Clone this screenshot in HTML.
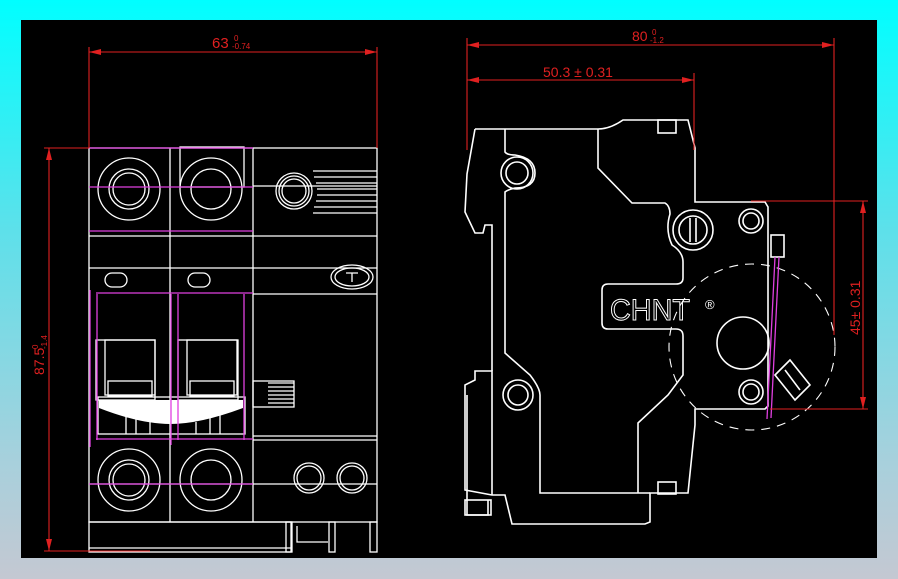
<!DOCTYPE html>
<html><head><meta charset="utf-8"><style>
html,body{margin:0;padding:0;}
body{width:898px;height:579px;overflow:hidden;background:linear-gradient(180deg,#00ffff 0%,#5ee0ea 40%,#a8d0dc 80%,#c4c8d2 100%);position:relative;font-family:"Liberation Sans",sans-serif;}
svg{position:absolute;left:0;top:0;}
</style></head><body>
<svg width="898" height="579" viewBox="0 0 898 579" xmlns="http://www.w3.org/2000/svg">
<rect x="21" y="20" width="856" height="538" fill="#000"/>
<g fill="none" stroke="#fff" stroke-width="1.3">
<rect x="89" y="148" width="288" height="374"/>
<line x1="170" y1="148" x2="170" y2="522"/>
<line x1="253" y1="148" x2="253" y2="522"/>
<line x1="89" y1="236" x2="377" y2="236"/>
<line x1="89" y1="268" x2="377" y2="268"/>
<line x1="253" y1="294" x2="377" y2="294"/>
<line x1="253" y1="436" x2="377" y2="436"/>
<line x1="253" y1="440" x2="377" y2="440"/>
<line x1="253" y1="186" x2="377" y2="186"/>
<line x1="89" y1="484" x2="377" y2="484"/>
<circle cx="129" cy="189" r="31"/><circle cx="129" cy="189" r="20"/><circle cx="129" cy="189" r="16"/>
<circle cx="211" cy="189" r="31"/><circle cx="211" cy="189" r="20"/>
<rect x="180" y="147" width="64" height="40"/>
<circle cx="294" cy="191" r="18"/><circle cx="294" cy="191" r="15"/><circle cx="294" cy="191" r="12"/>
<path d="M313 171 H377 M314 177 H377 M316 183 H377 M317 189 H377 M317 195 H377 M316 201 H377 M314 207 H377 M313 213 H377"/>
<rect x="105" y="273" width="22" height="14" rx="7"/><rect x="188" y="273" width="22" height="14" rx="7"/>
<ellipse cx="352" cy="277" rx="21" ry="12"/><ellipse cx="352" cy="277" rx="17" ry="9"/>
<path d="M346 273 H358 M352 273 V282"/>
<rect x="96" y="340" width="59" height="60"/><rect x="105" y="340" width="50" height="55"/>
<rect x="108" y="381" width="44" height="15"/>
<rect x="178" y="340" width="60" height="60"/><rect x="187" y="340" width="50" height="55"/>
<rect x="190" y="381" width="44" height="15"/>
<rect x="98" y="397" width="147" height="37"/>
<path d="M126 414 V434 M136 418 V434 M150 422 V434 M196 422 V434 M210 418 V434 M220 414 V434"/>
<rect x="253" y="381" width="41" height="26"/><path d="M268 383 H294 M268 387 H294 M268 391 H294 M268 395 H294 M268 399 H294 M268 403 H294"/>
<circle cx="129" cy="480" r="31"/><circle cx="129" cy="480" r="20"/><circle cx="129" cy="480" r="16"/>
<circle cx="211" cy="480" r="31"/><circle cx="211" cy="480" r="20"/>
<circle cx="309" cy="478" r="15"/><circle cx="309" cy="478" r="12"/>
<circle cx="352" cy="478" r="15"/><circle cx="352" cy="478" r="12"/>
<rect x="89" y="522" width="202" height="30"/><line x1="89" y1="548" x2="291" y2="548"/>
<rect x="286" y="522" width="6" height="30"/><rect x="329" y="522" width="6" height="30"/><rect x="370" y="522" width="7" height="30"/>
<path d="M297 526 V542 H328"/>
</g>
<path d="M99 400 H243 V408 Q200 424 170 424 Q140 424 99 408Z" fill="#fff"/>
<g fill="none" stroke="#e040e0" stroke-width="1.3">
<line x1="89" y1="187" x2="253" y2="187"/>
<line x1="89" y1="231" x2="253" y2="231"/>
<line x1="96" y1="293" x2="253" y2="293"/>
<line x1="96" y1="439" x2="253" y2="439"/>
<line x1="89" y1="484" x2="253" y2="484"/>
<line x1="89" y1="148" x2="253" y2="148"/>
<path d="M90 290 V447 M97 294 V440 M171 294 V445 M178 294 V440 M244 294 V440"/>
</g>
<g fill="none" stroke="#fff" stroke-width="1.6">
<path d="M475 129 H598 Q610 129 623 120 H688 L695 148 V202 H765 L768 207 V406 L765 409 H695 V425 L688 493 H650 V522 L645 524 H512 L505 495 H492 V371 L475 371 V380 L465 385 V490 L492 495"/>
<path d="M475 129 L467 174 L465 212 L475 233 H483 L485 225 H492 V371"/>
<path d="M505 129 V152 Q507 155 515 155 Q535 158 535 173 Q535 188 515 188 Q507 190 505 192 V353 L530 375 Q540 388 540 395 V493 H650"/>
<circle cx="517" cy="173" r="16"/><circle cx="517" cy="173" r="11"/>
<circle cx="518" cy="395" r="15"/><circle cx="518" cy="395" r="10"/>
<path d="M598 129 V168 L632 203 H665 Q670 206 670 214 Q665 230 672 245 Q683 252 683 262 V278 Q683 284 676 284 H608 Q602 284 602 290 V323 Q602 329 608 329 H676 Q683 329 683 336 V375 L668 395 L638 423 V493"/>
<circle cx="693" cy="230" r="20"/><circle cx="693" cy="230" r="14"/>
<path d="M690 218 V242 M696 218 V242"/>
<circle cx="751" cy="221" r="12"/><circle cx="751" cy="221" r="8"/>
<circle cx="751" cy="392" r="12"/><circle cx="751" cy="392" r="8"/>
<circle cx="743" cy="343" r="26"/>
<rect x="658" y="120" width="18" height="13"/><rect x="658" y="482" width="18" height="12"/>
<rect x="771" y="235" width="13" height="22"/>
<path d="M775 375 L790 360 L810 385 L795 400 Z M785 370 L800 390"/>
<path d="M467 395 V515 H488 V500"/>
<rect x="465" y="500" width="26" height="15"/>
</g>
<circle cx="752" cy="347" r="83" fill="none" stroke="#fff" stroke-width="1.1" stroke-dasharray="9 7"/>
<g fill="none" stroke="#e040e0" stroke-width="1.3">
<path d="M775 257 L767 419 M779 257 L771 418"/>
</g>
<text x="610" y="320" font-size="30" fill="none" stroke="#fff" stroke-width="1" font-family="Liberation Sans,sans-serif" textLength="80" lengthAdjust="spacingAndGlyphs">CHNT</text>
<text x="705" y="309" font-size="13" fill="#fff" font-family="Liberation Sans,sans-serif">®</text>
<g stroke="#e02020" stroke-width="1.1" fill="none">
<line x1="89" y1="52" x2="377" y2="52"/><line x1="89" y1="47" x2="89" y2="148"/><line x1="377" y1="47" x2="377" y2="148"/>
<line x1="49" y1="148" x2="49" y2="551"/><line x1="44" y1="148" x2="89" y2="148"/><line x1="44" y1="551" x2="150" y2="551"/>
<line x1="467" y1="45" x2="834" y2="45"/><line x1="467" y1="38" x2="467" y2="150"/><line x1="834" y1="38" x2="834" y2="335"/>
<line x1="467" y1="80" x2="694" y2="80"/><line x1="694" y1="73" x2="694" y2="150"/>
<line x1="863" y1="201" x2="863" y2="409"/><line x1="751" y1="201" x2="868" y2="201"/><line x1="770" y1="409" x2="868" y2="409"/>
</g>
<g fill="#e02020">
<path d="M89 52 L101 49 V55Z"/><path d="M377 52 L365 49 V55Z"/>
<path d="M49 148 L46 160 H52Z"/><path d="M49 551 L46 539 H52Z"/>
<path d="M467 45 L479 42 V48Z"/><path d="M834 45 L822 42 V48Z"/>
<path d="M467 80 L479 77 V83Z"/><path d="M694 80 L682 77 V83Z"/>
<path d="M863 201 L860 213 H866Z"/><path d="M863 409 L860 397 H866Z"/>
</g>
<g fill="#e02020" font-family="Liberation Sans,sans-serif">
<text x="212" y="48" font-size="15">63</text><text x="234" y="41" font-size="8">0</text><text x="232" y="49" font-size="8">-0.74</text>
<text x="632" y="41" font-size="14">80</text><text x="652" y="35" font-size="8">0</text><text x="650" y="43" font-size="8">-1.2</text>
<text x="543" y="77" font-size="14">50.3 ± 0.31</text>
<g transform="translate(44,375) rotate(-90)"><text x="0" y="0" font-size="14">87.5</text><text x="26" y="-6" font-size="8">0</text><text x="26" y="3" font-size="8">-1.4</text></g>
<g transform="translate(860,335) rotate(-90)"><text x="0" y="0" font-size="14">45± 0.31</text></g>
</g>
</svg>
</body></html>
